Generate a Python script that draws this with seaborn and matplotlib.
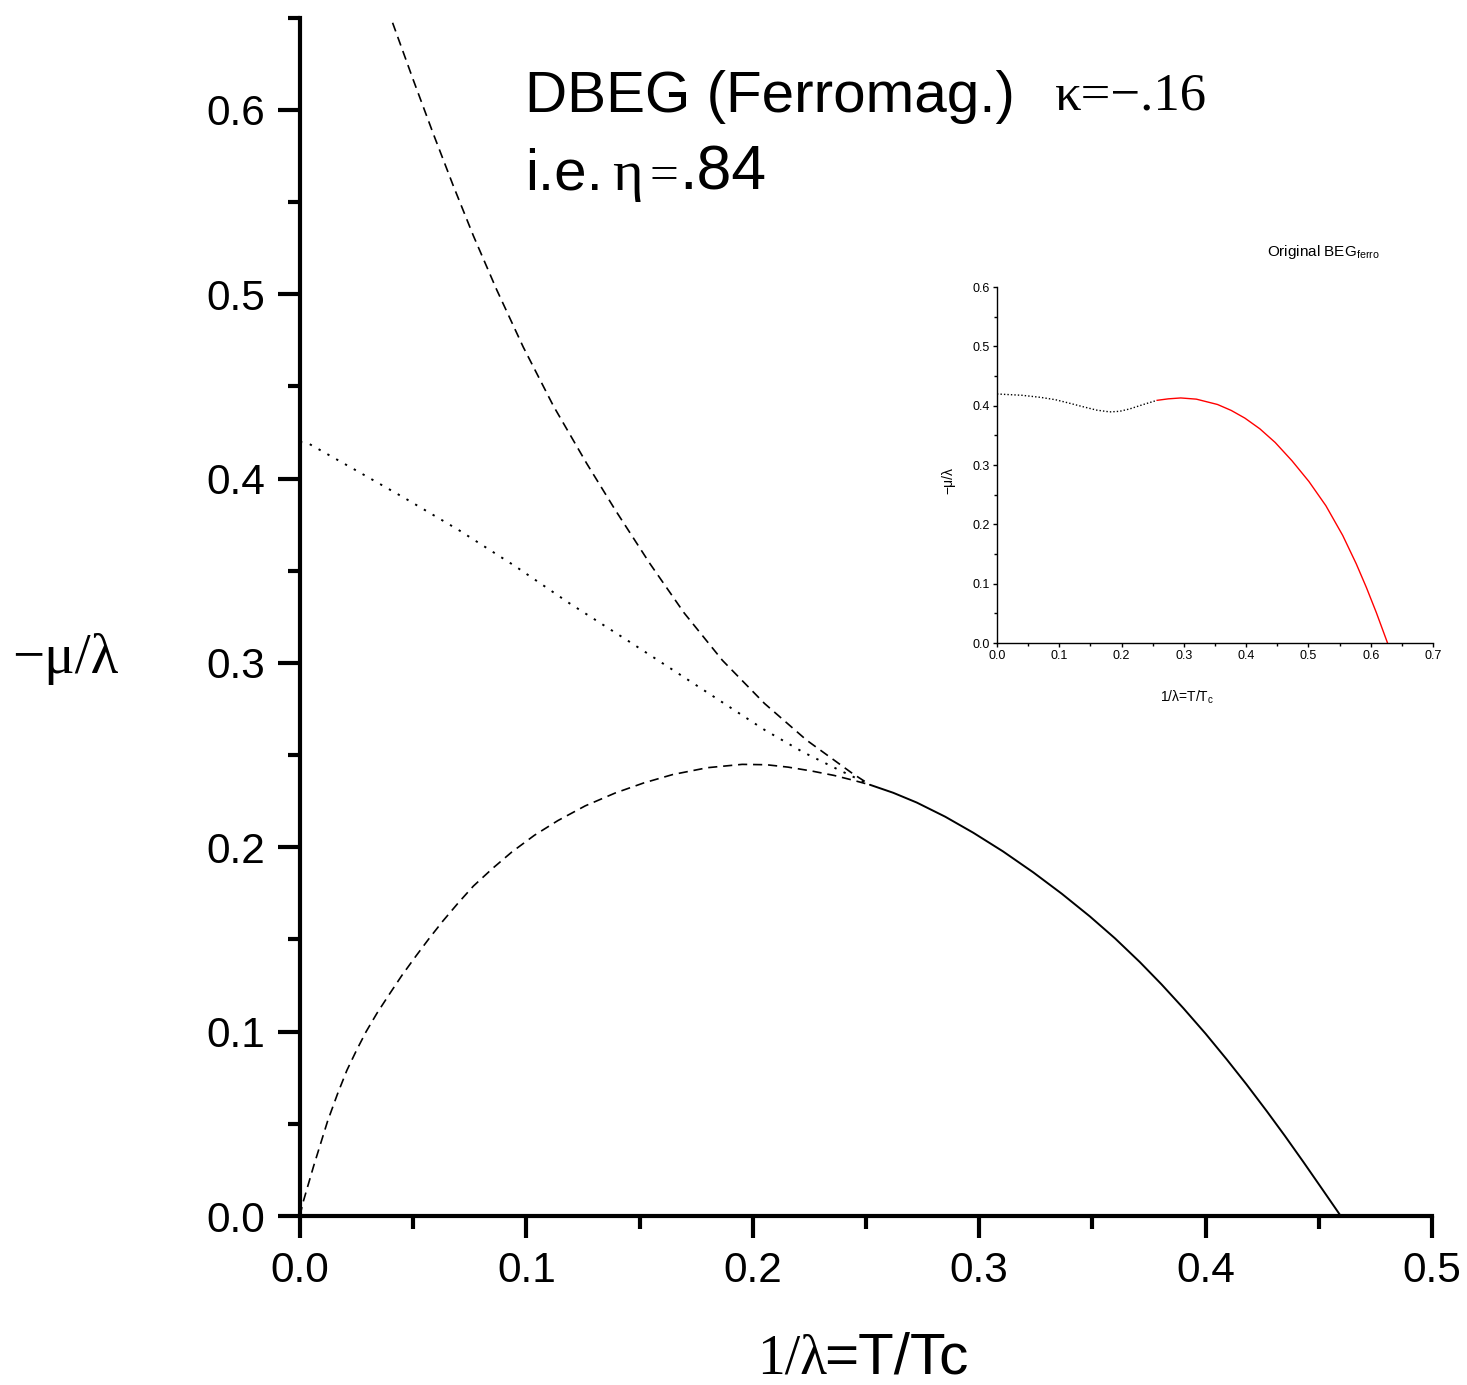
import numpy as np
import pandas as pd
import matplotlib
matplotlib.use("Agg")
import matplotlib.pyplot as plt
from matplotlib.ticker import MultipleLocator, FormatStrFormatter
import seaborn as sns

# ---------------- data ----------------
# upper dashed branch
x_upper = [0.0409, 0.0500, 0.0589, 0.0677, 0.0766, 0.0869, 0.0986, 0.1119, 0.1266,
           0.1393, 0.1545, 0.1697, 0.1866, 0.2052, 0.2238, 0.2441, 0.2518]
y_upper = [0.6473, 0.6164, 0.5870, 0.5589, 0.5317, 0.5024, 0.4714, 0.4395, 0.4083,
           0.3829, 0.3540, 0.3271, 0.3014, 0.2780, 0.2581, 0.2400, 0.2339]
# dotted branch
x_dot = [0.0000, 0.0040, 0.0243, 0.0463, 0.0700, 0.0953, 0.1190, 0.1443, 0.1646,
         0.1849, 0.2052, 0.2221, 0.2380, 0.2518]
y_dot = [0.4200, 0.4189, 0.4048, 0.3894, 0.3722, 0.3523, 0.3324, 0.3125, 0.2963,
         0.2800, 0.2637, 0.2517, 0.2420, 0.2339]
# lower dashed branch
x_low = [0.0000, 0.0012, 0.0060, 0.0122, 0.0165, 0.0207, 0.0250, 0.0292, 0.0340,
         0.0393, 0.0450, 0.0512, 0.0570, 0.0631, 0.0700, 0.0766, 0.0850, 0.0936,
         0.1035, 0.1139, 0.1260, 0.1393, 0.1520, 0.1647, 0.1800, 0.1953, 0.2060,
         0.2156, 0.2260, 0.2359, 0.2440, 0.2518]
y_low = [0.0000, 0.0068, 0.0270, 0.0515, 0.0660, 0.0790, 0.0900, 0.1000, 0.1100,
         0.1200, 0.1305, 0.1410, 0.1505, 0.1600, 0.1700, 0.1790, 0.1885, 0.1975,
         0.2065, 0.2145, 0.2225, 0.2295, 0.2350, 0.2395, 0.2432, 0.2450, 0.2448,
         0.2435, 0.2414, 0.2390, 0.2365, 0.2339]
# solid branch
x_sol = [0.2518, 0.2620, 0.2724, 0.2850, 0.2974, 0.3105, 0.3239, 0.3365, 0.3489,
         0.3600, 0.3710, 0.3805, 0.3902, 0.4000, 0.4093, 0.4180, 0.4270, 0.4350,
         0.4432, 0.4515, 0.4597]
y_sol = [0.2339, 0.2296, 0.2243, 0.2166, 0.2079, 0.1978, 0.1864, 0.1748, 0.1625,
         0.1506, 0.1377, 0.1257, 0.1127, 0.0989, 0.0850, 0.0715, 0.0569, 0.0435,
         0.0293, 0.0146, 0.0000]

# inset: original BEG
x_in_dot = [0.000, 0.040, 0.070, 0.094, 0.115, 0.137, 0.160, 0.181, 0.197, 0.213,
            0.235, 0.257]
y_in_dot = [0.4197, 0.4175, 0.4140, 0.4100, 0.4045, 0.3985, 0.3925, 0.3895,
            0.3905, 0.3945, 0.4020, 0.4090]
x_in_red = [0.257, 0.275, 0.295, 0.320, 0.354, 0.376, 0.398, 0.422, 0.4466, 0.4737,
            0.5008, 0.528, 0.555, 0.5768, 0.593, 0.609, 0.627]
y_in_red = [0.4090, 0.4115, 0.4130, 0.4110, 0.4020, 0.3920, 0.3790, 0.3610, 0.3380,
            0.3070, 0.2722, 0.2314, 0.1814, 0.1334, 0.0937, 0.0513, 0.0000]

main_xticks = [0.0, 0.1, 0.2, 0.3, 0.4, 0.5]
main_yticks = [0.0, 0.1, 0.2, 0.3, 0.4, 0.5, 0.6]
inset_xticks = [0.0, 0.1, 0.2, 0.3, 0.4, 0.5, 0.6, 0.7]
inset_yticks = [0.0, 0.1, 0.2, 0.3, 0.4, 0.5, 0.6]

# ---------------- style ----------------
sns.set_theme(style="ticks")
SANS = ["Liberation Sans", "DejaVu Sans"]
SERIF = ["Liberation Serif", "DejaVu Serif"]
plt.rcParams["font.family"] = SANS
plt.rcParams["mathtext.default"] = "regular"
plt.rcParams["text.color"] = "black"
plt.rcParams["axes.labelcolor"] = "black"
plt.rcParams["xtick.color"] = "black"
plt.rcParams["ytick.color"] = "black"

W, H = 1467, 1385
fig = plt.figure(figsize=(W / 100, H / 100), dpi=100)
fig.patch.set_facecolor("white")


def fpos(px, py):
    return px / W, 1 - py / H


def draw(ax, x, y, ls, color="black", lw=1.2):
    df = pd.DataFrame({"x": x, "y": y})
    sns.lineplot(data=df, x="x", y="y", ax=ax, color=color, sort=False,
                 estimator=None, linewidth=lw)
    ax.lines[-1].set_linestyle(ls)
    ax.lines[-1].set_solid_joinstyle("round")


# ---------------- main axes ----------------
ax = fig.add_axes([300 / W, (H - 1216) / H, 1132 / W, (1216 - 17.8) / H])
draw(ax, x_upper, y_upper, (0, (5.5, 3.5)), lw=1.2)
draw(ax, x_dot, y_dot, (0, (1.2, 4.0)), lw=1.4)
draw(ax, x_low, y_low, (0, (5.5, 3.5)), lw=1.2)
draw(ax, x_sol, y_sol, "-", lw=1.4)

ax.set_xlim(0, 0.5)
ax.set_ylim(0, 0.65)
ax.set_xticks(main_xticks)
ax.set_yticks(main_yticks)
ax.xaxis.set_minor_locator(MultipleLocator(0.05))
ax.yaxis.set_minor_locator(MultipleLocator(0.05))
ax.xaxis.set_major_formatter(FormatStrFormatter("%.1f"))
ax.yaxis.set_major_formatter(FormatStrFormatter("%.1f"))
ax.set_xlabel("")
ax.set_ylabel("")
for s in ["top", "right"]:
    ax.spines[s].set_visible(False)
for s in ["left", "bottom"]:
    ax.spines[s].set_linewidth(3)
    ax.spines[s].set_color("black")
ax.tick_params(which="major", direction="out", length=16, width=3, color="black",
               labelsize=30.5, pad=9, labelcolor="black")
ax.tick_params(which="minor", direction="out", length=9, width=3, color="black")
ax.set_facecolor("white")

# annotations (main)
fig.text(*fpos(525, 112), "DBEG (Ferromag.)", fontsize=42, family=SANS, va="baseline", ha="left")
fig.text(*fpos(1055, 110), "κ=−.16", fontsize=38, family=SERIF, va="baseline", ha="left")
fig.text(*fpos(525, 190), "i.e.", fontsize=42, family=SANS, va="baseline", ha="left")
fig.text(*fpos(612, 190), "η", fontsize=42, family=SERIF, va="baseline", ha="left")
fig.text(*fpos(649, 189), "=", fontsize=37, family=SERIF, va="baseline", ha="left")
fig.text(*fpos(679, 190), ".84", fontsize=45, family=SANS, va="baseline", ha="left")

# axis labels (main)
fig.text(*fpos(12, 673), "−μ/λ", fontsize=41, family=SERIF, va="baseline", ha="left")
fig.text(*fpos(757, 1374), "1/λ", fontsize=40, family=SERIF, va="baseline", ha="left")
fig.text(*fpos(824, 1374), "=T/Tc", fontsize=42, family=SANS, va="baseline", ha="left")

# ---------------- inset axes ----------------
axi = fig.add_axes([997 / W, (H - 643) / H, 436 / W, 356 / H])
draw(axi, x_in_dot, y_in_dot, (0, (1.0, 1.5)), lw=1.0)
draw(axi, x_in_red, y_in_red, "-", color="red", lw=1.0)
axi.set_xlim(0, 0.7)
axi.set_ylim(0, 0.6)
axi.set_xticks(inset_xticks)
axi.set_yticks(inset_yticks)
axi.xaxis.set_minor_locator(MultipleLocator(0.05))
axi.yaxis.set_minor_locator(MultipleLocator(0.05))
axi.xaxis.set_major_formatter(FormatStrFormatter("%.1f"))
axi.yaxis.set_major_formatter(FormatStrFormatter("%.1f"))
axi.set_xlabel("")
axi.set_ylabel("")
for s in ["top", "right"]:
    axi.spines[s].set_visible(False)
for s in ["left", "bottom"]:
    axi.spines[s].set_linewidth(1.0)
    axi.spines[s].set_color("black")
axi.tick_params(which="major", direction="out", length=3, width=1, color="black",
                labelsize=9, pad=2, labelcolor="black")
axi.tick_params(which="minor", direction="out", length=2, width=1, color="black")
axi.set_facecolor("white")

fig.text(*fpos(1267, 256), "Original BEG$_{ferro}$", fontsize=11, family=SANS,
         va="baseline", ha="left")
fig.text(*fpos(1187, 697), "1/λ=T/T$_c$", fontsize=10, family=SANS,
         va="center", ha="center")
fig.text(*fpos(948, 480), "−μ/λ", fontsize=10, family=SANS, rotation=90,
         va="center", ha="center")

fig.savefig("out.png", dpi=100, facecolor="white")
